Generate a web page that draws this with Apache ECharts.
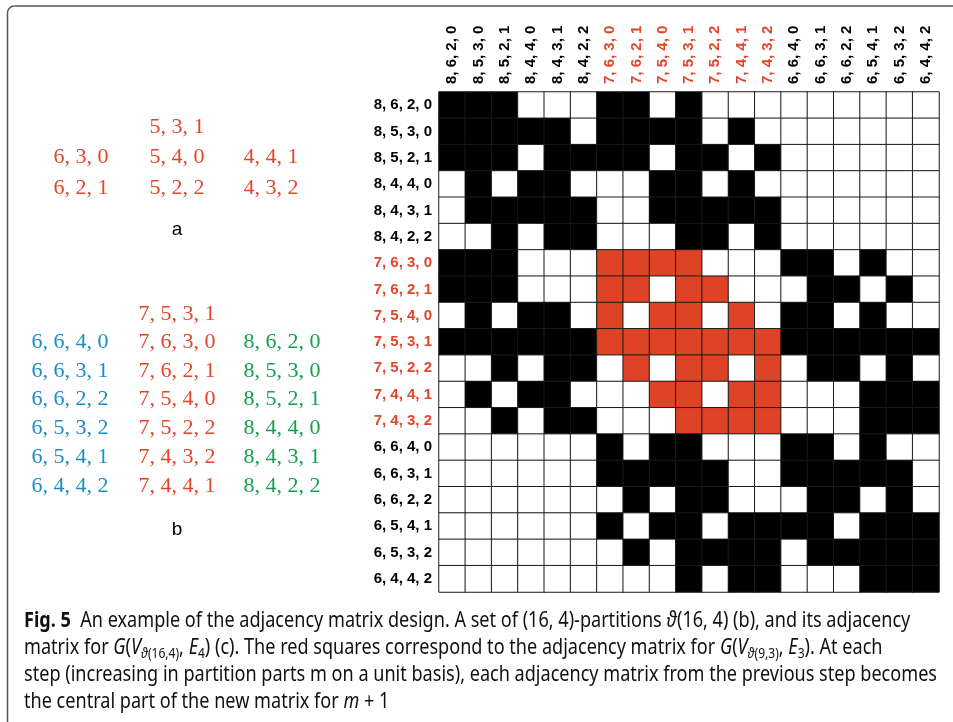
<!DOCTYPE html>
<html>
<head>
<meta charset="utf-8">
<script src="https://cdn.jsdelivr.net/npm/echarts@6/dist/echarts.min.js"></script>
<style>
  html, body { margin: 0; padding: 0; background: #fff; }
  #chart { width: 953px; height: 722px; }
</style>
</head>
<body>
<div id="chart"></div>
<script>
// partitions of (16, 4), in matrix order
const partitions = [
  '8, 6, 2, 0', '8, 5, 3, 0', '8, 5, 2, 1', '8, 4, 4, 0', '8, 4, 3, 1', '8, 4, 2, 2',
  '7, 6, 3, 0', '7, 6, 2, 1', '7, 5, 4, 0', '7, 5, 3, 1', '7, 5, 2, 2', '7, 4, 4, 1', '7, 4, 3, 2',
  '6, 6, 4, 0', '6, 6, 3, 1', '6, 6, 2, 2', '6, 5, 4, 1', '6, 5, 3, 2', '6, 4, 4, 2',
];
// indices of the partitions that form the (9, 3) sub-matrix
const redFirst = 6;
const redLast = 12;

// adjacency matrix: 0 = empty, 1 = black, 2 = red
const matrixRows = [
  '1110001101000000000',
  '1111101111010000000',
  '1110111101101000000',
  '0101100011010000000',
  '0111110011111000000',
  '0010110001101000000',
  '1110002222000110100',
  '1110002202200011010',
  '0101102022020110100',
  '1111112222222111111',
  '0010110202202011010',
  '0101100022022000111',
  '0010110002222000111',
  '0000001011000110100',
  '0000001111100111110',
  '0000000101100011010',
  '0000001011011110111',
  '0000000101111011111',
  '0000000001011000111',
];

// panel a: (9, 3)-partitions
const setA = [
  ['', '5, 3, 1', ''],
  ['6, 3, 0', '5, 4, 0', '4, 4, 1'],
  ['6, 2, 1', '5, 2, 2', '4, 3, 2'],
];
// panel b: (16, 4)-partitions
const setBBlue = ['6, 6, 4, 0', '6, 6, 3, 1', '6, 6, 2, 2', '6, 5, 3, 2', '6, 5, 4, 1', '6, 4, 4, 2'];
const setBRed = ['7, 5, 3, 1', '7, 6, 3, 0', '7, 6, 2, 1', '7, 5, 4, 0', '7, 5, 2, 2', '7, 4, 3, 2', '7, 4, 4, 1'];
const setBGreen = ['8, 6, 2, 0', '8, 5, 3, 0', '8, 5, 2, 1', '8, 4, 4, 0', '8, 4, 3, 1', '8, 4, 2, 2'];

const captionLines = [
  '{b|Fig. 5}  An example of the adjacency matrix design. A set of (16, 4)-partitions {i|ϑ}(16, 4) (b), and its adjacency',
  'matrix for {i|G}({i|V}{si|ϑ}{s|(16,4)}, {i|E}{s|4}) (c). The red squares correspond to the adjacency matrix for {i|G}({i|V}{si|ϑ}{s|(9,3)}, {i|E}{s|3}). At each',
  'step (increasing in partition parts m on a unit basis), each adjacency matrix from the previous step becomes',
  'the central part of the new matrix for {i|m} + 1',
];

const RED = '#e2462a';
const RED_CELL = '#df4326';
const BLUE = '#1a8cc9';
const GREEN = '#13a24b';
const SERIF = '"Liberation Serif", "Times New Roman", serif';
const SANS = '"Liberation Sans", Arial, sans-serif';
const CAP_FONT = '"Noto Sans", "Open Sans", sans-serif';
const CAP_SIZE = 21;

const chart = echarts.init(document.getElementById('chart'));

const cells = [];
matrixRows.forEach((row, y) => {
  row.split('').forEach((c, x) => cells.push([x, y, Number(c)]));
});

const isRed = (i) => i >= redFirst && i <= redLast;
const axisData = partitions.map((p, i) => ({
  value: p,
  textStyle: { color: isRed(i) ? RED : '#000' },
}));

const labelStyle = {
  interval: 0,
  fontSize: 15,
  fontWeight: 'bold',
  fontFamily: SANS,
};

// squeeze the caption to the column width
const ctx = document.createElement('canvas').getContext('2d');
ctx.font = `${CAP_SIZE}px ${CAP_FONT}`;
const capScale = 913 / ctx.measureText(captionLines[2]).width;

const frameStyle = { fill: null, stroke: '#555', lineWidth: 1.5 };
const graphics = [
  { type: 'line', shape: { x1: 14.5, y1: 6, x2: 953, y2: 6 }, style: frameStyle },
  { type: 'line', shape: { x1: 7.5, y1: 13, x2: 7.5, y2: 722 }, style: frameStyle },
  {
    type: 'arc',
    shape: { cx: 14.5, cy: 13, r: 7, startAngle: Math.PI, endAngle: Math.PI * 1.5, clockwise: true },
    style: frameStyle,
  },
];

function serifText(text, x, y, color) {
  return {
    type: 'text',
    x,
    y,
    style: {
      text,
      fill: color,
      fontSize: 22,
      fontFamily: SERIF,
      align: 'center',
      verticalAlign: 'middle',
    },
  };
}

const colA = [81, 177, 271];
const rowA = [127, 157, 188];
setA.forEach((row, r) => row.forEach((t, c) => {
  if (t) graphics.push(serifText(t, colA[c], rowA[r], RED));
}));

const rowB = [314, 342, 371, 399, 428, 457, 486];
setBRed.forEach((t, r) => graphics.push(serifText(t, 177, rowB[r], RED)));
setBBlue.forEach((t, r) => graphics.push(serifText(t, 70, rowB[r + 1], BLUE)));
setBGreen.forEach((t, r) => graphics.push(serifText(t, 282, rowB[r + 1], GREEN)));

[['a', 230], ['b', 530]].forEach(([t, y]) => {
  graphics.push({
    type: 'text',
    x: 177,
    y,
    style: {
      text: t, fill: '#000', fontSize: 19, fontFamily: SANS,
      align: 'center', verticalAlign: 'middle',
    },
  });
});

const capRich = {
  b: { fontSize: CAP_SIZE, fontFamily: CAP_FONT, fontWeight: 'bold', lineHeight: 27 },
  i: { fontSize: CAP_SIZE, fontFamily: CAP_FONT, fontStyle: 'italic', lineHeight: 27 },
  s: { fontSize: 14, fontFamily: CAP_FONT, lineHeight: 27, verticalAlign: 'bottom' },
  si: { fontSize: 14, fontFamily: CAP_FONT, fontStyle: 'italic', lineHeight: 27, verticalAlign: 'bottom' },
};
[621, 648, 675, 702].forEach((y, k) => {
  graphics.push({
    type: 'text',
    x: 24,
    y,
    scaleX: capScale,
    style: {
      text: captionLines[k],
      fill: '#111',
      fontSize: CAP_SIZE,
      fontFamily: CAP_FONT,
      lineHeight: 27,
      align: 'left',
      verticalAlign: 'middle',
      rich: capRich,
    },
  });
});

const option = {
  animation: false,
  grid: { left: 439, top: 92, width: 500, height: 500 },
  xAxis: {
    type: 'category',
    position: 'top',
    data: axisData,
    axisLine: { show: false },
    axisTick: { show: false },
    splitLine: { show: false },
    axisLabel: Object.assign({ rotate: -90, margin: 8 }, labelStyle),
  },
  yAxis: {
    type: 'category',
    inverse: true,
    data: axisData,
    axisLine: { show: false },
    axisTick: { show: false },
    splitLine: { show: false },
    axisLabel: Object.assign({ margin: 7 }, labelStyle),
  },
  visualMap: {
    type: 'piecewise',
    show: false,
    dimension: 2,
    seriesIndex: 0,
    pieces: [
      { value: 0, color: '#fff' },
      { value: 1, color: '#000' },
      { value: 2, color: RED_CELL },
    ],
  },
  series: [{
    type: 'heatmap',
    data: cells,
    itemStyle: { borderColor: '#1a1a1a', borderWidth: 1 },
    emphasis: { disabled: true },
  }],
  graphic: graphics,
};

chart.setOption(option);
</script>
</body>
</html>
